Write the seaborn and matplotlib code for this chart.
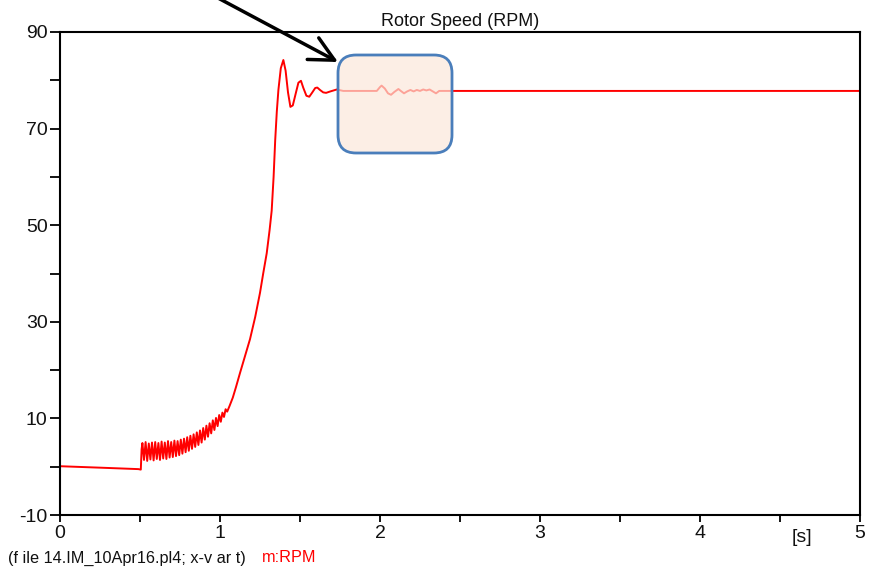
import matplotlib
matplotlib.use("Agg")
import matplotlib.pyplot as plt
from matplotlib.patches import FancyBboxPatch
from matplotlib.transforms import IdentityTransform
from matplotlib.ticker import MultipleLocator
import numpy as np
import pandas as pd
import seaborn as sns

# Rotor speed of the induction motor start-up (time in s, speed in RPM)
t_start = [0.0, 0.25, 0.49, 0.505, 0.51]
rpm_start = [0.1, -0.2, -0.5, -0.6, 3.6]

t_ripple = [0.515, 0.525, 0.535, 0.545, 0.555, 0.565, 0.575, 0.585, 0.595, 0.605,
            0.615, 0.625, 0.635, 0.645, 0.655, 0.665, 0.675, 0.685, 0.695, 0.705,
            0.715, 0.725, 0.735, 0.745, 0.755, 0.765, 0.775, 0.785, 0.795, 0.805,
            0.815, 0.825, 0.835, 0.845, 0.855, 0.865, 0.875, 0.885, 0.895, 0.905,
            0.915, 0.925, 0.935, 0.945, 0.955, 0.965, 0.975, 0.985, 0.995, 1.005,
            1.015, 1.025, 1.035, 1.045]
rpm_ripple = [4.9, 1.4, 5.1, 1.2, 4.8, 1.5, 5.0, 1.3, 5.1, 1.6,
              4.9, 1.4, 5.2, 1.7, 5.0, 1.6, 5.3, 1.9, 5.1, 2.0,
              5.4, 2.2, 5.3, 2.4, 5.6, 2.7, 5.8, 3.0, 6.1, 3.3,
              6.4, 3.7, 6.7, 4.1, 7.1, 4.5, 7.5, 5.0, 8.0, 5.6,
              8.5, 6.2, 9.0, 6.9, 9.6, 7.6, 10.1, 8.4, 10.7, 9.3,
              11.2, 10.3, 11.9, 11.4]

t_accel = [1.06, 1.08, 1.10, 1.125, 1.15, 1.1875, 1.22, 1.25, 1.27, 1.292, 1.31,
           1.323, 1.335, 1.345, 1.355, 1.365, 1.38, 1.396, 1.41, 1.425, 1.44,
           1.455, 1.475, 1.49, 1.506, 1.52, 1.54, 1.558, 1.575, 1.595, 1.608,
           1.625, 1.645, 1.663, 1.69, 1.73, 1.77]
rpm_accel = [12.6, 14.3, 16.5, 19.4, 22.2, 26.4, 31.0, 36.0, 40.0, 44.2, 49.0,
             53.0, 60.0, 67.6, 73.5, 78.0, 82.5, 84.2, 82.0, 77.5, 74.5,
             74.8, 77.5, 79.5, 79.9, 78.5, 76.8, 76.6, 77.4, 78.4, 78.5,
             78.0, 77.5, 77.4, 77.7, 78.1, 77.8]

t_steady = [1.98, 2.0, 2.01, 2.03, 2.05, 2.069, 2.09, 2.115, 2.13, 2.15,
            2.17, 2.19, 2.21, 2.23, 2.25, 2.27, 2.29, 2.31, 2.33, 2.35,
            2.37, 5.0]
rpm_steady = [77.8, 78.6, 78.9, 78.3, 77.3, 77.0, 77.6, 78.2, 77.8, 77.3,
              77.7, 78.0, 77.7, 78.0, 77.8, 78.1, 77.9, 78.1, 77.7, 77.3,
              77.8, 77.8]

x_ticks = [0, 1, 2, 3, 4, 5]
y_ticks = [-10, 10, 30, 50, 70, 90]

df = pd.DataFrame({
    "t": t_start + t_ripple + t_accel + t_steady,
    "rpm": rpm_start + rpm_ripple + rpm_accel + rpm_steady,
})

sns.set_theme(style="white")
plt.rcParams["font.family"] = ["Liberation Sans", "DejaVu Sans"]

fig = plt.figure(figsize=(8.7, 5.71), dpi=100)
ax = fig.add_axes([60 / 870, 1 - 515 / 571, 800 / 870, 483 / 571])

sns.lineplot(data=df, x="t", y="rpm", ax=ax, color="#ff0000", linewidth=1.4,
             estimator=None, sort=False, zorder=2)

ax.set_xlim(0, 5)
ax.set_ylim(-10, 90)
ax.set_xticks(x_ticks)
ax.set_yticks(y_ticks)
ax.set_xticklabels([str(v) for v in x_ticks])
ax.set_yticklabels([str(v) for v in y_ticks])
ax.xaxis.set_minor_locator(MultipleLocator(0.5))
ax.yaxis.set_minor_locator(MultipleLocator(10))
ax.tick_params(axis="both", which="both", direction="out", color="black",
               width=1.3, labelsize=14, labelcolor="#111111")
ax.tick_params(axis="x", which="both", length=5, pad=2, bottom=True)
ax.tick_params(axis="y", which="both", length=7, pad=2, left=True)
ax.set_xlabel("")
ax.set_ylabel("")
for side in ["left", "right", "top", "bottom"]:
    ax.spines[side].set_visible(True)
    ax.spines[side].set_color("black")
    ax.spines[side].set_linewidth(1.5)
ax.grid(False)

ax.set_title("Rotor Speed (RPM)", fontsize=13, pad=4, color="#111111")

# unit label beside the last tick
fig.text(802 / 870, 1 - 537 / 571, "[s]", ha="center", va="center",
         fontsize=14, color="#111111")

# footer: source file and variable name
fig.text(8 / 870, 1 - 558 / 571, "(f ile 14.IM_10Apr16.pl4; x-v ar t)",
         ha="left", va="center", fontsize=11.7, color="#111111")
fig.text(262 / 870, 1 - 558 / 571, "m:RPM", ha="left", va="center",
         fontsize=11.7, color="#ff0000")

# highlight box over the settled speed region (pixel coordinates)
H = 571
box = FancyBboxPatch((338, H - 153), 114, 98,
                     boxstyle="round,pad=0,rounding_size=18",
                     transform=IdentityTransform(),
                     facecolor="#fce8da", alpha=0.7,
                     edgecolor="none", zorder=5)
fig.patches.append(box)
edge = FancyBboxPatch((338, H - 153), 114, 98,
                      boxstyle="round,pad=0,rounding_size=18",
                      transform=IdentityTransform(),
                      facecolor="none", edgecolor="#4a7ebb",
                      linewidth=2.0, zorder=6)
fig.patches.append(edge)

# pointer arrow
ax.annotate("", xy=(338 / 870, 1 - 62 / 571), xycoords="figure fraction",
            xytext=(218 / 870, 1 + 2 / 571), textcoords="figure fraction",
            arrowprops=dict(arrowstyle="->,head_length=0.8,head_width=0.4",
                            color="black", linewidth=2.5, mutation_scale=22,
                            shrinkA=0, shrinkB=0),
            annotation_clip=False, zorder=7)

fig.savefig("out.png", dpi=100)
